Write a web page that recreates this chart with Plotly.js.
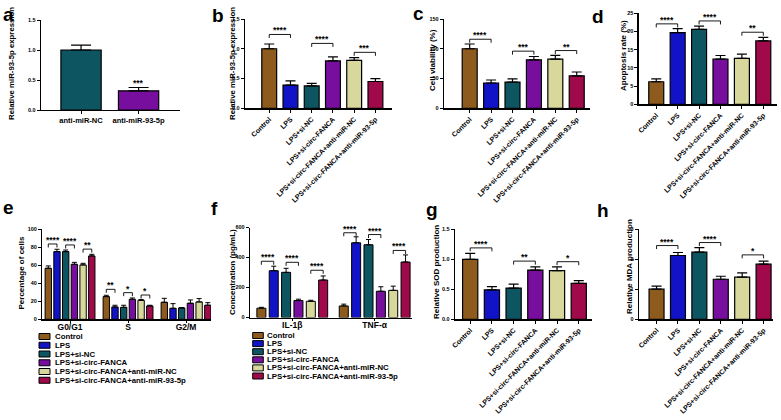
<!DOCTYPE html>
<html><head><meta charset="utf-8">
<script src="https://cdn.plot.ly/plotly-3.0.1.min.js"></script>
<style>html,body{margin:0;padding:0;background:#fff}#chart{width:781px;height:420px}</style>
</head><body><div id="chart"></div>
<script>
// ---------- data ----------
const groups = ['Control','LPS','LPS+si-NC','LPS+si-circ-FANCA','LPS+si-circ-FANCA+anti-miR-NC','LPS+si-circ-FANCA+anti-miR-93-5p'];
const groupColors = ['#8E5B1E','#1212C6','#0E5562','#780E9E','#D9D89C','#A00A4B'];

const aCats = ['anti-miR-NC','anti-miR-93-5p'];
const aVals = [1.0, 0.32];
const aErr = [0.08, 0.055];
const aColors = ['#0E5562','#780E9E'];

const bVals = [1.0, 0.39, 0.375, 0.795, 0.805, 0.45];
const bErr = [0.08, 0.07, 0.045, 0.07, 0.045, 0.05];
const cVals = [100, 42.5, 44, 81.5, 82.5, 54.5];
const cErr = [8, 5, 5.5, 5.5, 6.5, 6.5];
const dVals = [6.2, 19.7, 20.6, 12.4, 12.6, 17.4];
const dErr = [0.8, 1.1, 0.9, 1.0, 1.2, 1.0];
const gVals = [1.0, 0.49, 0.52, 0.82, 0.81, 0.6];
const gErr = [0.1, 0.055, 0.065, 0.055, 0.065, 0.045];
const hVals = [1.0, 2.12, 2.23, 1.33, 1.4, 1.83];
const hErr = [0.1, 0.1, 0.15, 0.1, 0.14, 0.1];

const ePhases = ['G0/G1','S','G2/M'];
const eVals = [[56.7,25.2,18.9],[75.2,13.7,12.2],[75.2,13.3,12.6],[61.1,22.2,17.8],[60.4,21.1,19.3],[70.4,14.8,15.6]];
const eErr  = [[2.6,1.5,4.4],[2.6,1.9,5.2],[1.8,2.3,0.4],[2.2,1.5,3.7],[1.8,0.8,3.7],[1.8,0.8,2.9]];
const fCytokines = ['IL-1β','TNF-α'];
const fVals = [[62,77],[312,498],[301,485],[113,175],[108,181],[250,370]];
const fErr  = [[6,12],[30,40],[27,35],[9,30],[7,28],[27,47]];

// significance: [from, to, label, level]  (grouped: [group, from, to, label, level])
const bSig = [[0,1,'****',1.24],[2,3,'****',1.09],[4,5,'***',0.94]];
const cSig = [[0,1,'****',116],[2,3,'***',96],[4,5,'**',97]];
const dSig = [[0,1,'****',22.1],[2,3,'****',22.9],[4,5,'**',19.8]];
const eSig = [[0,0,1,'****',83.7],[0,2,3,'****',82.6],[0,4,5,'**',78],[1,0,1,'**',33.3],[1,2,3,'*',29.6],[1,4,5,'*',27]];
const fSig = [[0,0,1,'****',375],[0,2,3,'****',368],[0,4,5,'****',315],[1,0,1,'****',565],[1,2,3,'****',553],[1,4,5,'****',447]];
const gSig = [[0,1,'****',1.19],[2,3,'**',0.97],[4,5,'*',0.96]];
const hSig = [[0,1,'****',2.45],[2,3,'****',2.55],[4,5,'*',2.14]];

const yTitles = ['Relative miR-93-5p expression','Relative miR-93-5p expression','Cell viability (%)','Apoptosis rate (%)',
                 'Percentage of cells','Concentration (pg/mL)','Relative SOD production','Relative MDA production'];
const panelLetters = ['a','b','c','d','e','f','g','h'];

// ---------- layout geometry (px) ----------
const W = 781, H = 420;
const FONT = 'Liberation Sans, Arial, Helvetica, sans-serif';
const BARGAP = 0.1, BARGROUPGAP = 0.27;
const X = p => p / W, Y = p => 1 - p / H;

const panels = [
  {xp:[41,180],   yp:[20,110],    xr:[-0.696,1.72], yr:[0,1.5], dt:0.5, fmt:'.1f'},
  {xp:[245,392],  yp:[19,108.3],  xr:[-1.14,5.78],  yr:[0,1.5], dt:0.5, fmt:'.1f'},
  {xp:[444,590],  yp:[19,108.3],  xr:[-1.2,5.62],   yr:[0,150], dt:50,  fmt:'d'},
  {xp:[638.7,777],yp:[13.3,104.3],xr:[-0.82,5.64],  yr:[0,25],  dt:5,   fmt:'d'},
  {xp:[42.3,211], yp:[229.3,319.3],xr:[-0.478,2.43],yr:[0,100], dt:20,  fmt:'d'},
  {xp:[250,412],  yp:[227.5,317.5],xr:[-0.513,1.453],yr:[0,600],dt:200, fmt:'d'},
  {xp:[455,592],  yp:[229.3,319.3],xr:[-0.70,5.61], yr:[0,1.5], dt:0.5, fmt:'.1f'},
  {xp:[639,773],  yp:[229,319.3], xr:[-0.82,5.44],  yr:[0,3],   dt:1,   fmt:'d'}
];
const titlePos = [[11,64],[232,64],[433,60],[624,56],[20.5,273],[232,272],[436,272],[629,267]];
const letterPos = [[1,27],[210,28.5],[411,26],[590,29],[1,219.5],[209,221],[424,221.5],[595,222.5]];

const ax = i => (i === 0 ? '' : String(i + 1));
const zeros = arr => arr.map(() => 0);

const traces = [];
function singleBars(i, cats, vals, err, colors, capw) {
  traces.push({type:'bar', x:cats, y:vals, width:0.7, xaxis:'x'+ax(i), yaxis:'y'+ax(i),
    marker:{color:colors, line:{color:'#000', width:1.2}},
    error_y:{type:'data', symmetric:false, array:err, arrayminus:zeros(err), color:'#000', thickness:1.2, width:capw},
    showlegend:false, hoverinfo:'skip'});
}
singleBars(0, aCats, aVals, aErr, aColors, 10);
singleBars(1, groups, bVals, bErr, groupColors, 5);
singleBars(2, groups, cVals, cErr, groupColors, 5);
singleBars(3, groups, dVals, dErr, groupColors, 5);
singleBars(6, groups, gVals, gErr, groupColors, 5);
singleBars(7, groups, hVals, hErr, groupColors, 5);

function groupedBars(i, cats, vals, err) {
  groups.forEach((g, k) => {
    traces.push({type:'bar', name:g, x:cats, y:vals[k], xaxis:'x'+ax(i), yaxis:'y'+ax(i),
      marker:{color:groupColors[k], line:{color:'#000', width:1}},
      error_y:{type:'data', symmetric:false, array:err[k], arrayminus:zeros(err[k]), color:'#000', thickness:1, width:2.5},
      showlegend:false, hoverinfo:'skip'});
  });
}
groupedBars(4, ePhases, eVals, eErr);
groupedBars(5, fCytokines, fVals, fErr);

const layout = {
  width:W, height:H, margin:{l:0,r:0,t:0,b:0}, paper_bgcolor:'#fff', plot_bgcolor:'rgba(0,0,0,0)',
  barmode:'group', bargap:BARGAP, bargroupgap:BARGROUPGAP, showlegend:false,
  font:{family:FONT, color:'#000'}, shapes:[], annotations:[]
};

panels.forEach((p, i) => {
  const grouped = (i === 4 || i === 5);
  layout['xaxis'+ax(i)] = {
    domain:[X(p.xp[0]), X(p.xp[1])], anchor:'y'+ax(i), type:'category', range:p.xr,
    showline:true, linecolor:'#000', linewidth:1.3, ticks:'outside', ticklen: grouped ? 2 : 3, tickwidth:1, tickcolor:'#000',
    showgrid:false, zeroline:false, fixedrange:true,
    tickangle: (i === 0 || grouped) ? 0 : -45,
    ticklabelstandoff: grouped ? -3 : 0,
    tickfont:{family:FONT, size: grouped ? 8.5 : (i === 0 ? 7.5 : 7), weight:'bold', color:'#000'}
  };
  layout['yaxis'+ax(i)] = {
    domain:[Y(p.yp[1]), Y(p.yp[0])], anchor:'x'+ax(i), range:p.yr, dtick:p.dt, tick0:0, tickformat:p.fmt,
    showline:true, linecolor:'#000', linewidth:1.3, ticks:'outside', ticklen:3, tickwidth:1, tickcolor:'#000',
    showgrid:false, zeroline:false, fixedrange:true,
    tickfont:{family:FONT, size:5.5, weight:'bold', color:'#000'}
  };
  layout.annotations.push({xref:'paper', yref:'paper', x:X(titlePos[i][0]), y:Y(titlePos[i][1]),
    text:yTitles[i], textangle:-90, showarrow:false, xanchor:'center', yanchor:'middle',
    font:{family:FONT, size:(i < 2 ? 7.8 : 8), weight:'bold', color:'#000'}});
  layout.annotations.push({xref:'paper', yref:'paper', x:X(letterPos[i][0]), y:Y(letterPos[i][1]),
    text:panelLetters[i], showarrow:false, xanchor:'left', yanchor:'bottom',
    font:{family:FONT, size:19, weight:'bold', color:'#000'}});
});

// significance brackets
function bracket(i, x0, x1, label, level) {
  const xr = 'x'+ax(i), yr = 'y'+ax(i);
  const ln = {color:'#000', width:0.9};
  layout.shapes.push({type:'line', xref:xr, yref:yr, x0:x0, x1:x1, y0:level, y1:level, line:ln});
  [x0, x1].forEach(xx => layout.shapes.push({type:'line', xref:xr, yref:yr, ysizemode:'pixel', yanchor:level,
    x0:xx, x1:xx, y0:0, y1:-3.5, line:ln}));
  layout.annotations.push({xref:xr, yref:yr, x:(x0+x1)/2, y:level, text:label, showarrow:false,
    xanchor:'center', yanchor:'bottom', yshift:-3, font:{family:FONT, size:8.5, weight:'bold', color:'#000'}});
}
[[1,bSig],[2,cSig],[3,dSig],[6,gSig],[7,hSig]].forEach(([i, sig]) => sig.forEach(s => bracket(i, s[0], s[1], s[2], s[3])));
const slot = (1 - BARGAP) / groups.length;
const off = k => (k - (groups.length - 1) / 2) * slot;
[[4,eSig],[5,fSig]].forEach(([i, sig]) => sig.forEach(s => bracket(i, s[0]+off(s[1]), s[0]+off(s[2]), s[3], s[4])));
// panel a: significance label above the second bar
layout.annotations.push({xref:'x', yref:'y', x:1, y:aVals[1]+aErr[1], text:'***', showarrow:false,
  xanchor:'center', yanchor:'bottom', yshift:-2, font:{family:FONT, size:8.5, weight:'bold', color:'#000'}});

// legends for e and f
function legend(x0, x1, tx, y0, dy) {
  groups.forEach((g, k) => {
    const yc = y0 + dy * k;
    layout.shapes.push({type:'rect', xref:'paper', yref:'paper', x0:X(x0), x1:X(x1), y0:Y(yc+3), y1:Y(yc-3),
      fillcolor:groupColors[k], line:{color:'#000', width:1}});
    layout.annotations.push({xref:'paper', yref:'paper', x:X(tx), y:Y(yc), text:g, showarrow:false,
      xanchor:'left', yanchor:'middle', borderpad:0, font:{family:FONT, size:7.8, weight:'bold', color:'#000'}});
  });
}
legend(39, 50, 54, 336.5, 8.75);
legend(252.7, 263.3, 266, 335.5, 8.1);

Plotly.newPlot('chart', traces, layout, {staticPlot:true});
</script></body></html>
